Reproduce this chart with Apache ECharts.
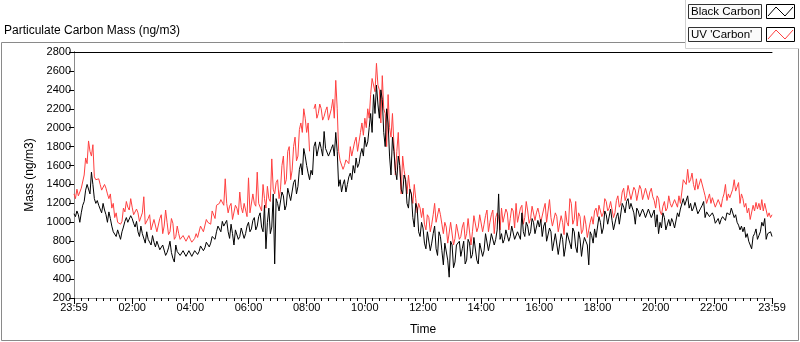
<!DOCTYPE html>
<html>
<head>
<meta charset="utf-8">
<script src="https://cdn.jsdelivr.net/npm/echarts@6/dist/echarts.min.js"></script>
<style>
  html, body { margin: 0; padding: 0; background: #fff; }
  #chart { width: 800px; height: 342px; }
</style>
</head>
<body>
<div id="chart"></div>
<script>
// readings every 3 minutes, starting at 23:59 of the previous day
const stepMin = 3;

const timeLabels = ['23:59', '02:00', '04:00', '06:00', '08:00', '10:00', '12:00',
  '14:00', '16:00', '18:00', '20:00', '22:00', '23:59'];

const blackCarbon = [
  // 23:59 - 03:56
  1090, 1060, 1120, 1080, 1000, 1100, 1180, 1220, 1340, 1400, 1420, 1300, 1530, 1400, 1250, 1200, 1230, 1180, 1160, 1100,
  1200, 1130, 1080, 1000, 1110, 1040, 960, 900, 880, 850, 920, 870, 820, 900, 950, 1010, 1050, 1000, 980, 1070,
  1040, 990, 950, 1010, 900, 850, 960, 880, 870, 780, 900, 820, 800, 760, 860, 790, 740, 800, 820, 710,
  700, 760, 780, 650, 680, 730, 800, 680, 620, 580, 760, 690, 700, 650, 640, 700, 690, 640, 660, 700,
  // 03:59 - 07:56
  680, 640, 650, 700, 720, 660, 690, 750, 760, 700, 730, 790, 800, 740, 780, 850, 860, 820, 900, 960,
  950, 900, 1010, 960, 950, 1020, 900, 830, 980, 880, 760, 920, 900, 820, 850, 940, 960, 830, 880, 960,
  1000, 900, 930, 1020, 1050, 920, 960, 1060, 1100, 950, 900, 1180, 720, 1000, 1150, 880, 950, 1300, 560, 1250,
  1200, 1120, 1100, 1320, 1280, 1130, 1180, 1360, 1350, 1230, 1250, 1420, 1450, 1300, 1380, 1560, 1620, 1500, 1780, 1700,
  // 07:59 - 11:56
  1600, 1520, 1450, 1550, 1500, 1800, 1850, 1700, 1700, 1850, 1780, 1700, 1960, 1780, 1760, 1700, 1720, 1780, 1820, 1700,
  1950, 1750, 1380, 1450, 1320, 1400, 1450, 1320, 1400, 1480, 1520, 1450, 1600, 1520, 1680, 1580, 1620, 1720, 1780, 1700,
  1900, 1800, 1850, 2000, 2150, 1950, 2350, 2150, 2450, 2250, 2100, 2400, 2300, 1950, 1800, 2200, 2050, 1700, 1500, 1900,
  1750, 1550, 1450, 1700, 1600, 1350, 1300, 1500, 1450, 1200, 1150, 1350, 1300, 1050, 950, 1200, 1150, 900, 850, 1000,
  // 11:59 - 15:56
  940, 780, 720, 900, 880, 700, 780, 880, 960, 720, 650, 900, 850, 700, 550, 780, 780, 600, 420, 800,
  760, 520, 580, 760, 740, 800, 640, 720, 800, 560, 600, 820, 780, 620, 660, 840, 820, 600, 560, 780,
  800, 640, 700, 880, 860, 700, 780, 880, 900, 760, 820, 920, 1300, 820, 880, 780, 820, 920, 900, 800,
  850, 960, 940, 820, 800, 900, 920, 820, 1100, 900, 850, 1000, 960, 860, 900, 1040, 1000, 880, 900, 1020,
  // 15:59 - 19:56
  950, 1030, 850, 960, 1000, 800, 780, 940, 900, 700, 720, 880, 860, 660, 680, 880, 820, 640, 740, 890,
  880, 780, 720, 940, 900, 740, 680, 900, 820, 640, 760, 840, 800, 760, 550, 900, 860, 780, 930, 840,
  860, 1060, 1000, 880, 940, 1120, 1080, 980, 960, 1140, 1020, 920, 900, 1060, 1100, 980, 1000, 1200, 1160, 1100,
  1220, 1250, 1140, 1200, 1200, 1100, 980, 1150, 1120, 1060, 1050, 1140, 1100, 1050, 1040, 1140, 1120, 1050, 1060, 1130,
  // 19:59 - 23:59
  950, 1080, 880, 1000, 940, 1100, 1050, 920, 900, 1030, 960, 1040, 1000, 940, 950, 1100, 1060, 1140, 1120, 1250,
  1180, 1200, 1280, 1150, 1200, 1120, 1150, 1210, 1200, 1090, 1100, 1150, 1180, 1220, 1050, 1110, 1100, 1060, 1080, 1100,
  1060, 990, 1000, 1040, 980, 1030, 1060, 1040, 1020, 1100, 1120, 1080, 1150, 1170, 1050, 1080, 1000, 970, 920, 960,
  900, 950, 840, 880, 800, 760, 720, 850, 880, 930, 820, 860, 900, 1000, 960, 1040, 820, 880, 860, 900, 850
];

const uvCarbon = [
  // 23:59 - 03:56
  1300, 1250, 1350, 1280, 1260, 1360, 1380, 1500, 1680, 1620, 1860, 1750, 1700, 1820, 1480, 1450, 1430, 1460, 1400, 1340,
  1330, 1400, 1360, 1300, 1250, 1300, 1150, 1200, 1050, 1100, 1000, 980, 980, 1010, 1150, 1110, 1220, 1160, 1130, 1250,
  1160, 1080, 1080, 1140, 1100, 1010, 1020, 1100, 1270, 980, 1000, 1040, 1080, 920, 940, 1030, 1050, 900, 920, 1040,
  1080, 880, 960, 1130, 1000, 870, 900, 1040, 990, 820, 850, 960, 880, 820, 830, 860, 850, 800, 820, 860,
  // 03:59 - 07:56
  820, 790, 800, 830, 880, 840, 850, 960, 950, 900, 900, 1030, 1000, 1020, 980, 1120, 1120, 1040, 1180, 1160,
  1200, 1240, 1250, 1180, 1460, 1200, 1100, 1170, 1200, 1030, 1050, 1180, 1150, 1080, 1320, 1160, 1100, 1200, 1200, 1060,
  1470, 1100, 1120, 1300, 1200, 1170, 1530, 1200, 1180, 1120, 1400, 1250, 1150, 1380, 1250, 1220, 1670, 1350, 1300, 1420,
  1450, 1250, 1350, 1600, 1700, 1400, 1450, 1750, 1800, 1450, 1550, 1800, 1900, 1650, 1700, 1980, 2050, 1950, 2200, 2100,
  // 07:59 - 11:56
  1950, 2050, 1750, null, null, 2200, 2250, 2100, 2150, 2250, 2200, 2080, 2120, 2180, 2220, 2080, 2100, 2200, 2300, 2100,
  2500, 2200, 1750, 1650, 1650, 1560, 1600, 1660, 1680, 1620, 1800, 1700, 1720, 1850, 1900, 1750, 1850, 1950, 2050, 1920,
  2100, 2000, 2200, 2100, 2350, 2520, 2500, 2380, 2680, 2450, 2400, 2050, 2550, 2200, 2150, 1800, 2350, 2000, 1900, 2150,
  2150, 1500, 1750, 1950, 1600, 1300, 1700, 1550, 1450, 1300, 1500, 1350, 1300, 1200, 1400, 1250, 1100, 1200, 1150, 1050,
  // 11:59 - 15:56
  1150, 980, 920, 1080, 1050, 900, 980, 1080, 1200, 1000, 1000, 1150, 1080, 980, 880, 1000, 950, 780, 800, 1000,
  980, 760, 830, 980, 960, 820, 850, 950, 1000, 820, 880, 1040, 1020, 760, 900, 1070, 1050, 900, 950, 1080,
  1100, 900, 980, 1070, 1130, 900, 1000, 1080, 1130, 880, 1050, 1100, 1060, 920, 1150, 1000, 980, 1140, 1100, 920,
  1040, 1150, 1120, 940, 1200, 1000, 1000, 1150, 1180, 980, 1050, 1220, 1120, 990, 1040, 1170, 1150, 1020, 1100, 1150,
  // 15:59 - 19:56
  1080, 1000, 980, 1140, 1200, 1000, 1000, 1240, 1050, 960, 950, 1100, 1060, 900, 920, 1070, 1000, 870, 1120, 1000,
  960, 1250, 1200, 980, 1030, 1220, 960, 1100, 1060, 880, 920, 1070, 980, 840, 850, 1000, 1060, 980, 1120, 1150,
  1060, 1180, 1160, 1060, 1100, 1250, 1220, 1120, 1150, 1220, 1200, 1050, 1100, 1230, 1280, 1160, 1200, 1320, 1360, 1230,
  1280, 1390, 1380, 1240, 1260, 1370, 1340, 1230, 1240, 1390, 1350, 1240, 1300, 1360, 1380, 1240, 1320, 1360, 1270, 1230,
  // 19:59 - 23:59
  1150, 1280, 1250, 1120, 1080, 1170, 1220, 1120, 1150, 1280, 1200, 1160, 1180, 1240, 1240, 1160, 1280, 1200, 1320, 1450,
  1450, 1400, 1560, 1420, 1450, 1520, 1400, 1340, 1460, 1350, 1350, 1460, 1460, 1340, 1280, 1200, 1250, 1300, 1200, 1260,
  1260, 1160, 1160, 1240, 1220, 1160, 1250, 1300, 1400, 1230, 1300, 1260, 1260, 1350, 1450, 1330, 1350, 1420, 1200, 1300,
  1250, 1160, 1200, 1100, 1150, 1030, 1050, 1180, 1120, 1210, 1140, 1200, 1130, 1240, 1120, 1200, 1130, 1060, 1100, 1050, 1080
];

const font = '"Liberation Sans", Arial, sans-serif';
const frameGray = '#8a8a8a';

const chart = echarts.init(document.getElementById('chart'));

const toPairs = arr => arr.map((v, i) => [i * stepMin, v]);

chart.setOption({
  animation: false,
  title: {
    text: 'Particulate Carbon Mass (ng/m3)',
    left: 4,
    top: 25,
    padding: 0,
    textStyle: { fontSize: 12, fontWeight: 'normal', color: '#000', fontFamily: font }
  },
  grid: { left: 74, top: 52, width: 698, height: 246, backgroundColor: '#fff', show: true, borderWidth: 0 },
  xAxis: [{
    type: 'value',
    min: 0,
    max: 1440,
    interval: 120,
    axisLine: { show: true, lineStyle: { color: frameGray, width: 1 } },
    axisTick: { show: true, length: 6, lineStyle: { color: '#000' } },
    minorTick: { show: true, splitNumber: 8, length: 3, lineStyle: { color: '#000' } },
    splitLine: { show: false },
    axisLabel: {
      margin: 4,
      fontSize: 11,
      color: '#000',
      fontFamily: font,
      showMinLabel: true,
      showMaxLabel: true,
      formatter: v => timeLabels[Math.round(v / 120)]
    },
    name: 'Time',
    nameLocation: 'middle',
    nameGap: 26,
    nameTextStyle: { fontSize: 12, color: '#000', fontFamily: font }
  }, {
    type: 'value',
    position: 'top',
    min: 0,
    max: 1440,
    axisLine: { show: true, lineStyle: { color: '#000', width: 1 } },
    axisTick: { show: false },
    axisLabel: { show: false },
    splitLine: { show: false }
  }],
  yAxis: [{
    type: 'value',
    min: 200,
    max: 2800,
    interval: 200,
    axisLine: { show: true, lineStyle: { color: '#000', width: 1 } },
    axisTick: { show: true, length: 5, lineStyle: { color: '#000' } },
    splitLine: { show: false },
    axisLabel: { margin: 3, fontSize: 11, color: '#000', fontFamily: font, formatter: v => String(v) },
    name: 'Mass (ng/m3)',
    nameLocation: 'middle',
    nameRotate: 90,
    nameGap: 37,
    nameTextStyle: { fontSize: 12, color: '#000', fontFamily: font }
  }, {
    type: 'value',
    position: 'right',
    min: 200,
    max: 2800,
    axisLine: { show: true, lineStyle: { color: frameGray, width: 1 } },
    axisTick: { show: false },
    axisLabel: { show: false },
    splitLine: { show: false }
  }],
  series: [{
    name: "UV 'Carbon'",
    type: 'line',
    data: toPairs(uvCarbon),
    showSymbol: false,
    connectNulls: false,
    lineStyle: { width: 1, color: '#ff4040' }
  }, {
    name: 'Black Carbon',
    type: 'line',
    data: toPairs(blackCarbon),
    showSymbol: false,
    lineStyle: { width: 1, color: '#000' }
  }],
  graphic: [
    // outer panel frame
    { type: 'polyline', silent: true, shape: { points: [[685, 42.5], [1.5, 42.5], [1.5, 340.5], [798.5, 340.5], [798.5, 48.5]] },
      style: { stroke: frameGray, fill: null, lineWidth: 1 } },
    { type: 'polyline', silent: true, shape: { points: [[685.5, 0], [685.5, 48.5], [799, 48.5]] },
      style: { stroke: '#d0d0d0', fill: null, lineWidth: 1 } },
    // legend
    { type: 'rect', shape: { x: 688.5, y: 4.5, width: 73, height: 14 }, style: { fill: '#fafafa', stroke: '#333', lineWidth: 1 } },
    { type: 'text', x: 691, y: 12, style: { text: 'Black Carbon', font: '11.5px ' + font, fill: '#000', verticalAlign: 'middle' } },
    { type: 'rect', shape: { x: 766.5, y: 4.5, width: 28, height: 14 }, style: { fill: '#fff', stroke: '#000', lineWidth: 1 } },
    { type: 'polyline', shape: { points: [[768, 16], [776, 7], [785, 16], [793, 7]] }, style: { stroke: '#000', fill: null, lineWidth: 1 } },
    { type: 'rect', shape: { x: 688.5, y: 27.5, width: 73, height: 14 }, style: { fill: '#fafafa', stroke: '#333', lineWidth: 1 } },
    { type: 'text', x: 691, y: 35, style: { text: "UV 'Carbon'", font: '11.5px ' + font, fill: '#000', verticalAlign: 'middle' } },
    { type: 'rect', shape: { x: 766.5, y: 27.5, width: 28, height: 14 }, style: { fill: '#fff', stroke: '#000', lineWidth: 1 } },
    { type: 'polyline', shape: { points: [[768, 39], [776, 30], [785, 39], [793, 30]] }, style: { stroke: '#ff4040', fill: null, lineWidth: 1 } }
  ]
});
</script>
</body>
</html>
